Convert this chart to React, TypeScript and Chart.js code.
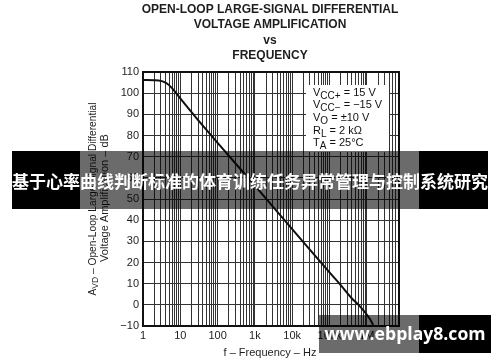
import React, { useEffect, useRef } from "react";
import { Chart, registerables } from "chart.js";

Chart.register(...registerables);

const titleLines = ["OPEN-LOOP LARGE-SIGNAL DIFFERENTIAL", "VOLTAGE AMPLIFICATION", "vs", "FREQUENCY"];
const frequencyHz = [1, 2, 3, 4, 5, 7, 10, 20, 30, 100, 1000, 10000, 100000, 200000, 400000, 600000, 800000, 1000000, 1200000, 1400000, 1500000];
const gainDb = [106.2, 106.1, 105.8, 105.0, 103.8, 101.0, 97.5, 91.0, 87.3, 76.5, 56.3, 35.8, 15.3, 9.3, 3, 0, -2.5, -4.6, -6.6, -8.7, -10];
const decadeValues = [1, 10, 100, 1e3, 1e4, 1e5, 1e6];
const decadeLabels = ["1", "10", "100", "1k", "10k", "100k", "1M"];
const minorMultipliers = [1, 2, 3, 4, 5, 6, 7, 8, 9];
const yTickValues = [-10, 0, 10, 20, 30, 40, 50, 60, 70, 80, 90, 100, 110];
const yTickLabels = ["\u221210", "0", "10", "20", "30", "40", "50", "60", "70", "80", "90", "100", "110"];
const xMin = 1;
const xMax = 7.3e6;
const yTitleLine1 = [
  { t: "A", sub: false },
  { t: "VD", sub: true },
  { t: " \u2013 Open-Loop Large-Signal Differential", sub: false },
];
const yTitleLine2 = "Voltage Amplification \u2013 dB";
const xTitle = "f \u2013 Frequency \u2013 Hz";
const conditionMain = ["V", "V", "V", "R", "T"];
const conditionSub = ["CC+", "CC\u2212", "O", "L", "A"];
const conditionRest = [" = 15 V", " = \u221215 V", " = \u00b110 V", " = 2 k\u03a9", " = 25\u00b0C"];
const bannerText = "基于心率曲线判断标准的体育训练任务异常管理与控制系统研究";
const watermarkText = "www.ebplay8.com";

const FONT = "'Liberation Sans', Arial, sans-serif";

const gridTicks: number[] = [];
decadeValues.forEach((d) => minorMultipliers.forEach((m) => {
  const v = d * m;
  if (v >= xMin && v <= xMax) gridTicks.push(v);
}));

const drawPlugin = {
  id: "customDraw",
  beforeDraw(chart: any) {
    const ctx = chart.ctx;
    ctx.save();
    ctx.fillStyle = "#fff";
    ctx.fillRect(0, 0, chart.width, chart.height);
    ctx.restore();
  },
  afterDatasetsDraw(chart: any) {
    const ctx = chart.ctx;
    ctx.save();
    ctx.fillStyle = "#fff";
    ctx.fillRect(306, 85, 83, 67);
    ctx.fillStyle = "#111";
    ctx.textBaseline = "alphabetic";
    ctx.textAlign = "left";
    const baselines = [96, 108, 121, 134, 146];
    conditionMain.forEach((m, i) => {
      let px = 313;
      ctx.font = `11px ${FONT}`;
      ctx.fillText(m, px, baselines[i]);
      px += ctx.measureText(m).width;
      ctx.font = `10px ${FONT}`;
      ctx.fillText(conditionSub[i], px, baselines[i] + 3);
      px += ctx.measureText(conditionSub[i]).width;
      ctx.font = `11px ${FONT}`;
      ctx.fillText(conditionRest[i], px, baselines[i]);
    });
    ctx.restore();
  },
  afterDraw(chart: any) {
    const ctx = chart.ctx;
    const a = chart.chartArea;
    ctx.save();
    ctx.strokeStyle = "#111";
    ctx.lineWidth = 2;
    ctx.strokeRect(a.left, a.top, a.right - a.left, a.bottom - a.top);

    ctx.fillStyle = "#1e1e1e";
    ctx.textAlign = "center";
    ctx.textBaseline = "alphabetic";
    ctx.font = `bold 12px ${FONT}`;
    const cx = (a.left + a.right) / 2 - 1;
    const tb = [12.8, 28.2, 43.6, 59];
    titleLines.forEach((l, i) => ctx.fillText(l, cx, tb[i]));

    ctx.font = `11px ${FONT}`;
    ctx.fillText(xTitle, cx, 356);

    const cy = 199;
    ctx.save();
    ctx.translate(95.5, cy);
    ctx.rotate(-Math.PI / 2);
    ctx.textAlign = "left";
    let total = 0;
    yTitleLine1.forEach((s) => {
      ctx.font = s.sub ? `8.5px ${FONT}` : `10.2px ${FONT}`;
      total += ctx.measureText(s.t).width;
    });
    let px = -total / 2;
    yTitleLine1.forEach((s) => {
      ctx.font = s.sub ? `8.5px ${FONT}` : `10.2px ${FONT}`;
      ctx.fillText(s.t, px, s.sub ? 2.5 : 0);
      px += ctx.measureText(s.t).width;
    });
    ctx.restore();
    ctx.save();
    ctx.translate(107.5, cy - 1);
    ctx.rotate(-Math.PI / 2);
    ctx.textAlign = "center";
    ctx.font = `11px ${FONT}`;
    ctx.fillText(yTitleLine2, 0, 0);
    ctx.restore();
    ctx.restore();
  },
};

export default function App() {
  const ref = useRef<HTMLCanvasElement>(null);
  useEffect(() => {
    document.body.style.margin = "0";
    const chart = new Chart(ref.current as HTMLCanvasElement, {
      type: "line",
      data: {
        datasets: [
          {
            data: frequencyHz.map((f, i) => ({ x: f, y: gainDb[i] })),
            borderColor: "#111",
            borderWidth: 2,
            pointRadius: 0,
            cubicInterpolationMode: "monotone",
            fill: false,
          },
        ],
      },
      options: {
        animation: false,
        responsive: false,
        devicePixelRatio: 1,
        events: [],
        layout: { padding: { top: 72, right: 101, left: 0, bottom: 0 } },
        plugins: { legend: { display: false }, title: { display: false }, tooltip: { enabled: false } },
        scales: {
          x: {
            type: "logarithmic",
            min: xMin,
            max: xMax,
            afterFit: (s: any) => { s.height = 36; },
            afterBuildTicks: (s: any) => { s.ticks = gridTicks.map((v) => ({ value: v })); },
            grid: { color: "#333", lineWidth: 1, drawTicks: false },
            border: { display: false },
            ticks: {
              autoSkip: false,
              maxRotation: 0,
              minRotation: 0,
              padding: 3,
              color: "#1e1e1e",
              font: { family: FONT, size: 11 },
              callback: (v: any) => {
                const idx = decadeValues.indexOf(Number(v));
                return idx >= 0 ? decadeLabels[idx] : "";
              },
            },
          },
          y: {
            type: "linear",
            min: -10,
            max: 110,
            afterFit: (s: any) => { s.width = 143; },
            afterBuildTicks: (s: any) => { s.ticks = yTickValues.map((v) => ({ value: v })); },
            grid: { color: "#333", lineWidth: 1, drawTicks: false },
            border: { display: false },
            ticks: {
              padding: 4,
              color: "#1e1e1e",
              font: { family: FONT, size: 11 },
              callback: (v: any) => {
                const idx = yTickValues.indexOf(Number(v));
                return idx >= 0 ? yTickLabels[idx] : "";
              },
            },
          },
        },
      },
      plugins: [drawPlugin],
    } as any);
    return () => chart.destroy();
  }, []);

  const abs = (l: number, t: number, w: number, h: number, bg: string): React.CSSProperties => ({
    position: "absolute", left: l, top: t, width: w, height: h, background: bg,
  });

  return (
    <div style={{ position: "relative", width: 500, height: 362, overflow: "hidden", background: "#fff" }}>
      <canvas ref={ref} width={500} height={362} style={{ display: "block", width: 500, height: 362 }} />
      <div style={abs(12, 151, 68, 58, "#000")} />
      <div style={abs(80, 151, 339, 58, "rgba(0,0,0,0.58)")} />
      <div style={abs(419, 151, 69, 58, "#000")} />
      <div
        style={{
          position: "absolute", left: 0, top: 151, width: 500, height: 58,
          display: "flex", alignItems: "center", justifyContent: "center",
          color: "#fff", fontFamily: "'Noto Sans CJK SC', sans-serif", fontWeight: 700,
          fontSize: 17, whiteSpace: "nowrap", lineHeight: 1,
        }}
      >
        {bannerText}
      </div>
      <div style={abs(319, 315, 100, 38, "rgba(0,0,0,0.58)")} />
      <div style={abs(419, 315, 72, 38, "#000")} />
      <div
        style={{
          position: "absolute", left: 319, top: 315, width: 172, height: 38,
          display: "flex", alignItems: "center", justifyContent: "center",
          color: "#fff", fontFamily: "'Open Sans', 'Noto Sans', sans-serif", fontWeight: 700,
          fontSize: 17.6, whiteSpace: "nowrap", lineHeight: 1,
        }}
      >
        {watermarkText}
      </div>
    </div>
  );
}
